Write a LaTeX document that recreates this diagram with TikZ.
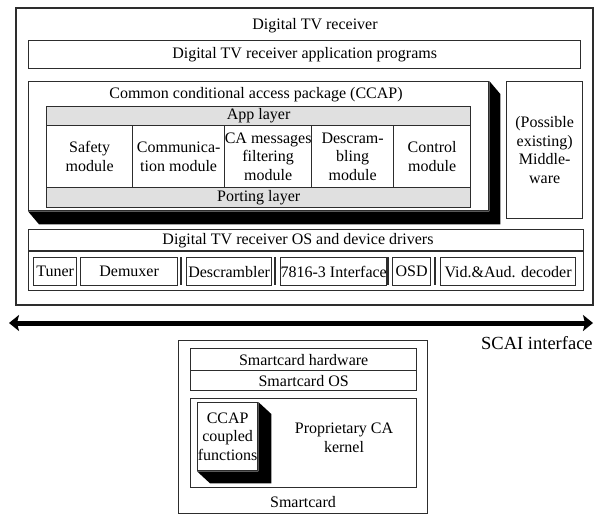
\documentclass[tikz,border=0pt]{standalone}
\usepackage{fontspec}
\setmainfont{Liberation Serif}
\usetikzlibrary{arrows.meta,calc}
\definecolor{layergray}{RGB}{224,224,224}
\definecolor{edgegray}{RGB}{45,45,45}

% black extrusion below and right of a box
\newcommand{\boxshade}[3]{%
  \fill[black] (#1.north east) -- ++(#2,#3) |- ($(#1.south west)+(#2,#3)$)
    -- (#1.south west) -- (#1.south east) -- cycle;}

\begin{document}
\begin{tikzpicture}[x=1pt,y=-1pt,
    every node/.style={font=\fontsize{16}{18.5}\selectfont},
    box/.style={draw=edgegray,line width=1.3pt,inner sep=0pt,anchor=north west,align=center},
    layer/.style={box,fill=layergray},
    txt/.style={inner sep=0pt,align=center}]
  \useasboundingbox (0,0) rectangle (601,515);

  % receiver side
  \node[box,line width=1.6pt,minimum width=577pt,minimum height=297pt] (tvr) at (15,7) {};
  \node[txt] (tvrlabel) at (315,26) {Digital TV receiver};
  \node[box,minimum width=552pt,minimum height=28pt] (apps) at (28,40)
    {Digital TV receiver application programs};

  \node[box,minimum width=460pt,minimum height=129pt] (ccap) at (28,81) {};
  \boxshade{ccap}{11}{13}
  \node[txt] (ccaplabel) at (256,95) {Common conditional access package (CCAP)};
  \node[layer,minimum width=424pt,minimum height=19pt] (applayer) at (46,106) {App layer};
  \node[box,minimum width=86pt,minimum height=62pt] (safety) at (46,125) {Safety\\module};
  \node[box,minimum width=92pt,minimum height=62pt] (comm) at (132,125) {Communica-\\tion module};
  \node[box,minimum width=87pt,minimum height=62pt] (camsg) at (224,125) {CA messages\\filtering\\module};
  \node[box,minimum width=82pt,minimum height=62pt] (descr) at (311,125) {Descram-\\bling\\module};
  \node[box,minimum width=77pt,minimum height=62pt] (ctrl) at (393,125) {Control\\module};
  \node[layer,minimum width=424pt,minimum height=20pt] (porting) at (46,187) {Porting layer};

  \node[box,minimum width=76pt,minimum height=137pt] (mw) at (506,81)
    {(Possible\\existing)\\Middle-\\ware};

  \node[box,minimum width=555pt,minimum height=61pt] (os) at (28,229) {};
  \node[txt] (oslabel) at (298,241) {Digital TV receiver OS and device drivers};
  \draw[edgegray,line width=1.3pt] (os.west |- 0,251) -- (os.east |- 0,251);
  \node[box,minimum width=43pt,minimum height=28pt] (tuner) at (33,257) {Tuner};
  \node[box,minimum width=97pt,minimum height=28pt] (demux) at (80,257) {Demuxer};
  \node[box,minimum width=85pt,minimum height=28pt] (descrambler) at (186,257) {Descrambler};
  \node[box,minimum width=105pt,minimum height=28pt] (iface) at (280,257) {7816-3 Interface};
  \node[box,minimum width=38pt,minimum height=28pt] (osd) at (392,257) {OSD};
  \node[box,minimum width=135pt,minimum height=28pt] (vad) at (440,257) {Vid.\&Aud. decoder};
  \foreach \x in {181,275,388,435}
    \draw[edgegray,line width=1.3pt] (\x,257) -- (\x,285);

  % interface
  \coordinate (scaiL) at (9,323);
  \coordinate (scaiR) at (593,323);
  \draw[line width=5pt,{Stealth[length=10pt,width=16pt,inset=2pt]}-{Stealth[length=10pt,width=16pt,inset=2pt]}]
    (scaiL) -- (scaiR);
  \node[txt,anchor=west,font=\fontsize{18.5}{20}\selectfont] (scailabel) at (481,343) {SCAI interface};

  % smartcard side
  \node[box,minimum width=249pt,minimum height=173pt] (card) at (178,340) {};
  \node[txt] (cardlabel) at (303,502) {Smartcard};
  \node[box,minimum width=226pt,minimum height=22pt] (schw) at (190,348) {Smartcard hardware};
  \node[box,minimum width=226pt,minimum height=20pt] (scos) at (190,370) {Smartcard OS};
  \node[box,minimum width=226pt,minimum height=89pt] (kernel) at (190,398) {};
  \node[txt] (kernellabel) at (344,438) {Proprietary CA\\kernel};
  \node[box,minimum width=60pt,minimum height=68pt] (coupled) at (197,402) {CCAP\\coupled\\functions};
  \boxshade{coupled}{13}{12}
\end{tikzpicture}
\end{document}
